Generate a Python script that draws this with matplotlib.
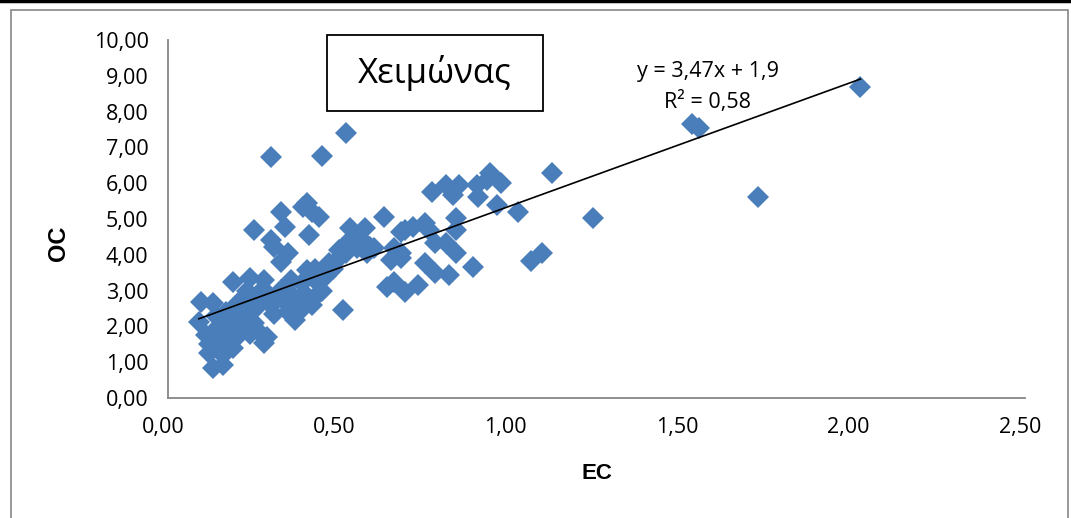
import matplotlib.pyplot as plt
import matplotlib.transforms as mtransforms
from matplotlib.patches import Rectangle
import numpy as np

# EC / OC values
ec = [2.02, 1.53, 1.55, 1.72, 1.24, 1.12, 1.09, 1.06, 1.02, 0.96,
      0.94, 0.97, 0.93, 0.90, 0.905, 0.83, 0.81, 0.85, 0.77, 0.84,
      0.84, 0.78, 0.81, 0.84, 0.75, 0.78, 0.82, 0.89, 0.73, 0.69,
      0.68, 0.69, 0.715, 0.75, 0.76,
      0.52, 0.30, 0.45, 0.33, 0.405, 0.395, 0.42, 0.44, 0.34, 0.25,
      0.41, 0.30, 0.31, 0.35, 0.63, 0.53, 0.575, 0.53, 0.56, 0.59,
      0.50, 0.68, 0.66, 0.68, 0.64, 0.66, 0.65, 0.51, 0.52, 0.47,
      0.09, 0.095, 0.13, 0.19, 0.11, 0.12, 0.13, 0.16, 0.15, 0.14,
      0.18, 0.205, 0.23, 0.23, 0.26, 0.24, 0.28, 0.28, 0.26, 0.29,
      0.33, 0.35, 0.37, 0.33, 0.405, 0.41, 0.44, 0.43,
      0.15, 0.17, 0.19, 0.21, 0.22, 0.17, 0.20, 0.25, 0.27, 0.30,
      0.32, 0.34, 0.36, 0.38, 0.39, 0.40, 0.42, 0.45, 0.46, 0.43,
      0.48, 0.50, 0.55, 0.58, 0.60, 0.31, 0.27, 0.23, 0.14, 0.12,
      0.16, 0.19, 0.24, 0.29, 0.35, 0.36, 0.39]
oc = [8.70, 7.65, 7.55, 5.62, 5.02, 6.28, 4.06, 3.83, 5.20, 5.39,
      6.28, 6.00, 6.09, 5.95, 5.62, 5.67, 5.95, 5.95, 5.76, 5.02,
      4.69, 4.32, 4.32, 4.04, 3.76, 3.48, 3.44, 3.65, 3.16, 2.97,
      3.90, 4.69, 4.78, 4.89, 4.69,
      7.41, 6.72, 6.76, 5.20, 5.46, 5.34, 5.20, 5.06, 4.79, 4.69,
      4.55, 4.41, 4.23, 4.04, 5.06, 4.74, 4.74, 4.41, 4.46, 4.23,
      4.13, 4.65, 4.18, 4.04, 3.11, 3.25, 3.85, 2.46, 4.04, 3.76,
      2.13, 2.69, 2.64, 3.25, 1.76, 1.25, 0.83, 0.92, 1.43, 1.90,
      1.57, 2.64, 2.83, 2.27, 2.55, 3.34, 3.30, 1.53, 1.90, 2.92,
      3.81, 2.60, 2.18, 3.02, 3.58, 2.74, 2.92, 3.30,
      2.00, 1.80, 2.10, 1.90, 2.40, 2.40, 1.70, 2.10, 2.70, 2.60,
      2.80, 3.10, 2.90, 2.70, 3.20, 2.90, 2.60, 3.00, 3.40, 3.60,
      3.60, 3.90, 4.20, 4.05, 4.20, 2.35, 3.00, 3.00, 2.30, 1.50,
      1.20, 1.40, 1.80, 1.70, 2.40, 3.30, 2.50]

slope = 3.47
intercept = 1.9
eq_text = 'y = 3,47x + 1,9'
r2_text = 'R² = 0,58'
title = 'Χειμώνας'

xticks = [0, 0.5, 1.0, 1.5, 2.0, 2.5]
yticks = list(range(0, 11))

plt.rcParams['font.family'] = ['Open Sans', 'DejaVu Sans']

W, H = 1071, 518
fig = plt.figure(figsize=(W / 100, H / 100), dpi=100)
ax = fig.add_axes([168 / W, 1 - 398 / H, (1025 - 168) / W, (398 - 40) / H])

ax.plot(ec, oc, 'D', color='#4A7EBB', markersize=11, markeredgewidth=0)

xs = np.array([min(ec), max(ec)])
ax.plot(xs, slope * xs + intercept, color='black', linewidth=1.2)

ax.set_xlim(0, 2.5)
ax.set_ylim(0, 10)
ax.set_xticks(xticks)
ax.set_yticks(yticks)
ax.set_xticklabels([f'{v:.2f}'.replace('.', ',') for v in xticks])
ax.set_yticklabels([f'{v:.2f}'.replace('.', ',') for v in yticks])
ax.tick_params(length=0, labelsize=15.5, pad=14)
offset = mtransforms.ScaledTranslation(-5 / 100, 0, fig.dpi_scale_trans)
for lbl in ax.get_xticklabels():
    lbl.set_transform(lbl.get_transform() + offset)

for s in ['top', 'right']:
    ax.spines[s].set_visible(False)
for s in ['left', 'bottom']:
    ax.spines[s].set_color('#868686')
    ax.spines[s].set_linewidth(1.3)

ax.set_xlabel('EC', fontsize=16, fontweight='bold', family='Liberation Sans')
ax.set_ylabel('OC', fontsize=17, fontweight='bold', family='Liberation Sans')
ax.xaxis.set_label_coords(597 / W, 1 - 463 / H, transform=fig.transFigure)
ax.yaxis.set_label_coords(70 / W, 1 - 243 / H, transform=fig.transFigure)

# title box
fig.patches.append(Rectangle((327 / W, 1 - 111 / H), (543 - 327) / W, (111 - 35) / H,
                             transform=fig.transFigure, facecolor='white',
                             edgecolor='black', linewidth=1.3, zorder=5))
fig.text(435 / W, 1 - 73 / H, title, fontsize=25, ha='center', va='center', zorder=6)

fig.text(708 / W, 1 - 71 / H, eq_text, fontsize=15.5, ha='center', va='center')
fig.text(708 / W, 1 - 102 / H, r2_text, fontsize=15.5, ha='center', va='center')

# outer chart frame
fig.patches.append(Rectangle((11 / W, -0.3), (1068 - 11) / W, 1.3 - 10 / H,
                             transform=fig.transFigure, fill=False, edgecolor='#868686',
                             linewidth=1.2))
fig.lines.append(plt.Line2D([0, 1], [1 - 1 / H, 1 - 1 / H], transform=fig.transFigure,
                            color='black', linewidth=2.5))

fig.savefig('out.png', dpi=100)
